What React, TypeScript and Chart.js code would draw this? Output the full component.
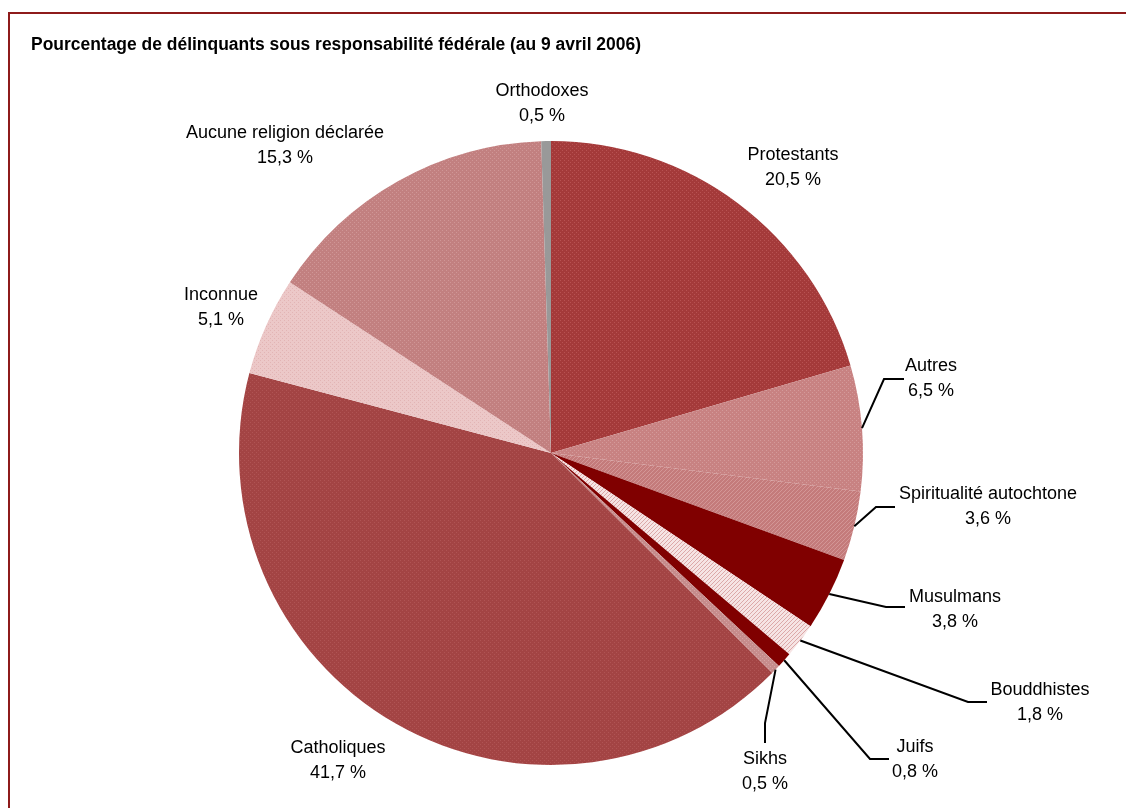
import React, { useEffect, useRef } from "react";
import { Chart, registerables } from "chart.js";

Chart.register(...registerables);

const title = "Pourcentage de délinquants sous responsabilité fédérale (au 9 avril 2006)";
const categories = [
  "Protestants",
  "Autres",
  "Spiritualité autochtone",
  "Musulmans",
  "Bouddhistes",
  "Juifs",
  "Sikhs",
  "Catholiques",
  "Inconnue",
  "Aucune religion déclarée",
  "Orthodoxes",
];
const values = [20.5, 6.5, 3.6, 3.8, 1.8, 0.8, 0.5, 41.7, 5.1, 15.3, 0.5];
const valueLabels = ["20,5 %", "6,5 %", "3,6 %", "3,8 %", "1,8 %", "0,8 %", "0,5 %", "41,7 %", "5,1 %", "15,3 %", "0,5 %"];

// styles: [base, accent, kind]
const sliceStyles: [string, string, string][] = [
  ["#a43a3a", "#b85252", "dots"],
  ["#c88282", "#d49a9a", "dots"],
  ["#c47b7b", "#d39696", "diag"],
  ["#800000", "#800000", "solid"],
  ["#f6e4e4", "#dca8a8", "diag"],
  ["#800000", "#800000", "solid"],
  ["#c68c8c", "#d6a4a4", "dots"],
  ["#a34444", "#b05454", "dots"],
  ["#ecc8c8", "#e2b4b4", "dots"],
  ["#c28080", "#d09696", "dots"],
  ["#999999", "#999999", "solid"],
];

// label block centers, relative to pie centre (px)
const labelOffsets: [number, number][] = [
  [242, -285],
  [380, -74],
  [437, 54],
  [404, 157],
  [489, 250],
  [364, 307],
  [214, 319],
  [-213, 308],
  [-330, -145],
  [-266, -307],
  [-9, -349],
];
// leader lines: [elbow, end] relative to pie centre, or null
const leaders: ([number, number][] | null)[] = [
  null,
  [[333, -74], [353, -74]],
  [[325, 54], [344, 54]],
  [[335, 154], [354, 154]],
  [[417, 249], [436, 249]],
  [[319, 306], [338, 306]],
  [[214, 270], [214, 290]],
  null,
  null,
  null,
  null,
];

function makePattern(base: string, accent: string, kind: string): CanvasPattern | string {
  if (kind === "solid") return base;
  const c = document.createElement("canvas");
  c.width = 4;
  c.height = 4;
  const g = c.getContext("2d")!;
  g.fillStyle = base;
  g.fillRect(0, 0, 4, 4);
  g.fillStyle = accent;
  if (kind === "dots") {
    g.fillRect(0, 0, 1, 1);
    g.fillRect(2, 2, 1, 1);
  } else {
    for (let i = 0; i < 4; i++) g.fillRect(i, 3 - i, 1, 1);
  }
  const ctx = document.createElement("canvas").getContext("2d")!;
  return ctx.createPattern(c, "repeat") || base;
}

const labelPlugin = {
  id: "pieLabels",
  afterDraw(chart: any) {
    const ctx = chart.ctx as CanvasRenderingContext2D;
    const meta = chart.getDatasetMeta(0);
    ctx.save();
    // title
    ctx.font = "bold 18px 'Liberation Sans Narrow', 'Liberation Sans', Arial, sans-serif";
    const w = ctx.measureText(title).width;
    ctx.save();
    ctx.translate(31, 45);
    ctx.scale(610 / w, 1);
    ctx.fillStyle = "#000";
    ctx.textBaseline = "middle";
    ctx.textAlign = "left";
    ctx.fillText(title, 0, 0);
    ctx.restore();

    ctx.font = "18px 'Liberation Sans', Arial, sans-serif";
    ctx.textAlign = "center";
    ctx.textBaseline = "middle";
    meta.data.forEach((arc: any, i: number) => {
      const p = arc.getProps(["x", "y", "startAngle", "endAngle", "outerRadius"], true);
      const cx = p.x;
      const cy = p.y;
      const mid = (p.startAngle + p.endAngle) / 2;
      const ld = leaders[i];
      if (ld) {
        ctx.beginPath();
        ctx.strokeStyle = "#000";
        ctx.lineWidth = 2;
        ctx.moveTo(cx + Math.cos(mid) * p.outerRadius, cy + Math.sin(mid) * p.outerRadius);
        ctx.lineTo(cx + ld[0][0], cy + ld[0][1]);
        ctx.lineTo(cx + ld[1][0], cy + ld[1][1]);
        ctx.stroke();
      }
      const [dx, dy] = labelOffsets[i];
      ctx.fillStyle = "#000";
      ctx.fillText(categories[i], cx + dx, cy + dy - 12.5);
      ctx.fillText(valueLabels[i], cx + dx, cy + dy + 12.5);
    });
    ctx.restore();
  },
};

export default function App() {
  const ref = useRef<HTMLCanvasElement>(null);
  useEffect(() => {
    if (!ref.current) return;
    const bg = sliceStyles.map(([b, a, k]) => makePattern(b, a, k));
    const chart = new Chart(ref.current, {
      type: "pie",
      data: {
        labels: categories,
        datasets: [
          {
            data: values,
            backgroundColor: bg as any,
            borderWidth: 0,
          },
        ],
      },
      options: {
        responsive: false,
        animation: false,
        layout: { padding: { top: 141, bottom: 43, left: 239, right: 263 } },
        plugins: {
          legend: { display: false },
          tooltip: { enabled: false },
          title: { display: false },
        },
      },
      plugins: [labelPlugin],
    });
    return () => chart.destroy();
  }, []);
  return (
    <>
      <div
        style={{
          position: "fixed",
          left: 8,
          top: 12,
          width: 1300,
          height: 900,
          borderTop: "2px solid #8e1b1b",
          borderLeft: "2px solid #8e1b1b",
          boxSizing: "border-box",
        }}
      />
      <canvas
        ref={ref}
        width={1126}
        height={808}
        style={{ position: "fixed", left: 0, top: 0, width: 1126, height: 808 }}
      />
    </>
  );
}
